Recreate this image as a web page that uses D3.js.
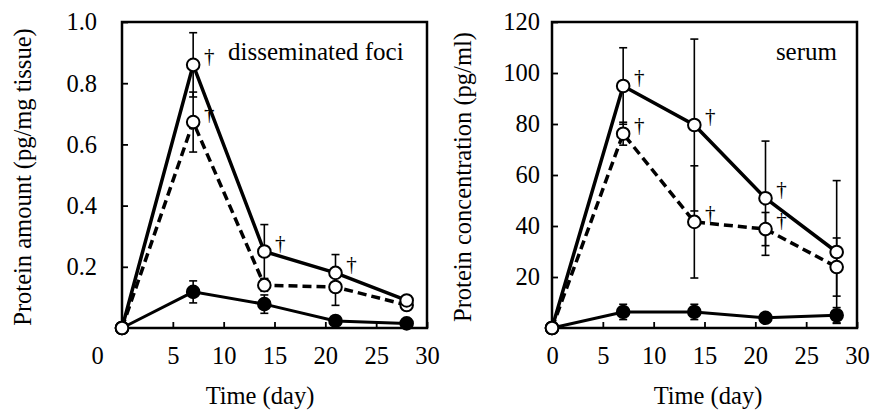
<!DOCTYPE html>
<html>
  <script src="https://cdn.jsdelivr.net/npm/d3@7"></script>
  <style>
    body{ margin: 0; background: #fff; }
  </style>
  <body>
    <script>

var days = [0, 7, 14, 21, 28]
  , xTicks = [0, 5, 10, 15, 20, 25, 30]

// left panel: disseminated foci (pg/mg tissue)
var fociA = [0, 0.86, 0.25, 0.18, 0.09]
  , fociAsd = [0, 0.105, 0.088, 0.06, 0.01]
  , fociAmark = [0, 1, 1, 1, 0]
  , fociB = [0, 0.673, 0.14, 0.134, 0.075]
  , fociBsd = [0, 0.098, 0.02, 0.06, 0.01]
  , fociBmark = [0, 1, 0, 0, 0]
  , fociC = [0, 0.118, 0.078, 0.023, 0.015]
  , fociCsd = [0, 0.036, 0.03, 0.008, 0.005]
  , fociYTicks = [0.2, 0.4, 0.6, 0.8, 1.0]

// right panel: serum (pg/ml)
var serumA = [0, 94.9, 79.6, 50.9, 29.8]
  , serumAsd = [0, 15, 33.7, 22.4, 28]
  , serumAmark = [0, 1, 1, 1, 0]
  , serumB = [0, 76.2, 41.6, 38.8, 23.9]
  , serumBsd = [0, 4.5, 22, 6.5, 11.4]
  , serumBmark = [0, 1, 1, 1, 0]
  , serumC = [0, 6.3, 6.3, 4.0, 5.0]
  , serumCsd = [0, 3, 3, 1, 3]
  , serumYTicks = [20, 40, 60, 80, 100, 120]

var FONT = '"Liberation Serif", "DejaVu Serif", serif'

var svg = d3.select('body').append('svg').attr('width', 874).attr('height', 413)
  .style('font-family', FONT)

function txt(sel, size){
  return sel.style('font-family', FONT).style('font-size', size + 'px').attr('fill', '#000')
}

function panel(o){
  var x = d3.scaleLinear().domain([0, 30]).range([o.left, o.left + 305])
    , y = d3.scaleLinear().domain([0, o.yMax]).range([328, 22])
    , g = svg.append('g')

  // axes with inner ticks
  var ax = g.append('g').attr('transform', 'translate(0,328)')
    .call(d3.axisBottom(x).tickValues(xTicks).tickFormat(d3.format('d'))
      .tickSizeInner(-6).tickSizeOuter(0).tickPadding(19))
  var ay = g.append('g').attr('transform', 'translate(' + o.left + ',0)')
    .call(d3.axisLeft(y).tickValues(o.yTicks).tickFormat(o.fmt)
      .tickSizeInner(-6).tickSizeOuter(0).tickPadding(o.pad))
  ;[ax, ay].forEach(function(a){
    a.attr('font-family', null).attr('font-size', null)
    a.select('.domain').remove()
    a.selectAll('line').attr('stroke', '#000').attr('stroke-width', 1.8)
    txt(a.selectAll('text'), 24.5)
  })
  ax.selectAll('.tick').filter(function(d){ return d === 0 })
    .select('text').attr('dx', o.zeroShift)

  g.append('rect').attr('x', o.left).attr('y', 22).attr('width', 305).attr('height', 306)
    .attr('fill', 'none').attr('stroke', '#000').attr('stroke-width', 2.5)

  var line = d3.line().x(function(d, i){ return x(days[i]) }).y(function(d){ return y(d) })
    , series = [
        {v: o.C, sd: o.Csd, w: 3, dash: null, fill: '#000'},
        {v: o.B, sd: o.Bsd, w: 3.5, dash: '9,5', fill: '#fff', mark: o.Bmark},
        {v: o.A, sd: o.Asd, w: 3.5, dash: null, fill: '#fff', mark: o.Amark}
      ]

  series.forEach(function(s){
    g.append('path').attr('d', line(s.v)).attr('fill', 'none')
      .attr('stroke', '#000').attr('stroke-width', s.w).attr('stroke-dasharray', s.dash)
  })

  series.forEach(function(s){
    var eb = g.append('g').attr('stroke', '#000').attr('stroke-width', 1.6)
    s.v.forEach(function(v, i){
      if(!s.sd[i]) return
      var cx = x(days[i]), y0 = y(v + s.sd[i]), y1 = y(Math.max(0, v - s.sd[i]))
      eb.append('line').attr('x1', cx).attr('x2', cx).attr('y1', y0).attr('y2', y1)
      ;[y0, y1].forEach(function(yy){
        eb.append('line').attr('x1', cx - 4).attr('x2', cx + 4).attr('y1', yy).attr('y2', yy)
      })
    })
  })

  series.forEach(function(s){
    g.append('g').selectAll('circle').data(s.v).enter().append('circle')
      .attr('cx', function(d, i){ return x(days[i]) })
      .attr('cy', function(d){ return y(d) })
      .attr('r', 6.3).attr('fill', s.fill).attr('stroke', '#000').attr('stroke-width', 2)
  })

  series.forEach(function(s){
    if(!s.mark) return
    s.v.forEach(function(v, i){
      if(!s.mark[i]) return
      txt(g.append('text'), 21).attr('x', x(days[i]) + 16).attr('y', y(v) - 9)
        .attr('text-anchor', 'middle').attr('dominant-baseline', 'central')
        .text('\u2020')
    })
  })

  txt(g.append('text'), 25).attr('x', o.labelX).attr('y', 60)
    .attr('text-anchor', o.labelAnchor).text(o.label)

  txt(g.append('text'), 24.5).attr('x', o.left + 152 + o.titleShift).attr('y', 404)
    .attr('text-anchor', 'middle').text('Time (day)')

  txt(g.append('text'), 24.5).attr('transform', 'translate(' + o.yTitleX + ',177) rotate(-90)')
    .attr('text-anchor', 'middle').text(o.yTitle)
}

panel({
  left: 122, yMax: 1.0, yTicks: fociYTicks, fmt: d3.format('.1f'), pad: 25, zeroShift: -25,
  A: fociA, Asd: fociAsd, Amark: fociAmark, B: fociB, Bsd: fociBsd, Bmark: fociBmark,
  C: fociC, Csd: fociCsd,
  label: 'disseminated foci', labelX: 228, labelAnchor: 'start', titleShift: -14,
  yTitle: 'Protein amount (pg/mg tissue)', yTitleX: 31
})

panel({
  left: 552, yMax: 120, yTicks: serumYTicks, fmt: d3.format('d'), pad: 12, zeroShift: 0,
  A: serumA, Asd: serumAsd, Amark: serumAmark, B: serumB, Bsd: serumBsd, Bmark: serumBmark,
  C: serumC, Csd: serumCsd,
  label: 'serum', labelX: 837, labelAnchor: 'end', titleShift: 4,
  yTitle: 'Protein concentration (pg/ml)', yTitleX: 471
})

    </script>
  </body>
</html>
